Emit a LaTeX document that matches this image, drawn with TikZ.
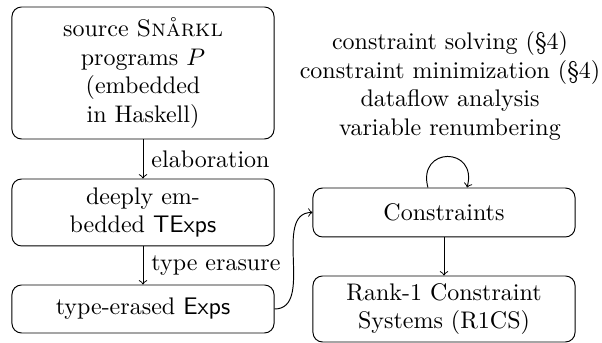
\documentclass[tikz,border=0pt]{standalone}
\usetikzlibrary{arrows}
\begin{document}
\begin{tikzpicture}[x=0.41667pt,y=0.41667pt,
  stage/.style={draw,rounded corners=4pt,align=center,inner sep=2pt,
    minimum width=109.2pt},
  flow/.style={->}]
\useasboundingbox (0,0) rectangle (602,343);

% left column: front end
\node[stage,minimum height=55pt] (src) at (143,270)
  {source \textsc{Snårkl}\\ programs $P$\\ (embedded\\ in Haskell)};
\node[stage,minimum height=27.9pt] (texp) at (143,130.5)
  {deeply em-\\ bedded \textsf{TExps}};
\node[stage,minimum height=20pt] (exp) at (143,34)
  {type-erased \textsf{Exps}};

% right column: back end
\node[stage,minimum height=20.4pt] (cons) at (444,130.5) {Constraints};
\node[stage,minimum height=27.5pt] (r1cs) at (444,34)
  {Rank-1 Constraint\\ Systems (R1CS)};

% passes applied to the constraint set
\node[align=center] (passes) at (450,257)
  {constraint solving (\S4)\\ constraint minimization (\S4)\\
   dataflow analysis\\ variable renumbering};

\draw[flow] (src) -- node[right]{elaboration} (texp);
\draw[flow] (texp) -- node[right]{type erasure} (exp);
\draw[flow] (exp.east) to[out=0,in=180] (cons.west);
\draw[flow] (cons) -- (r1cs);
\draw[flow] ([xshift=-6.7pt]cons.north) to[out=105,in=75,looseness=2.8]
  ([xshift=9.6pt]cons.north);
\end{tikzpicture}
\end{document}
